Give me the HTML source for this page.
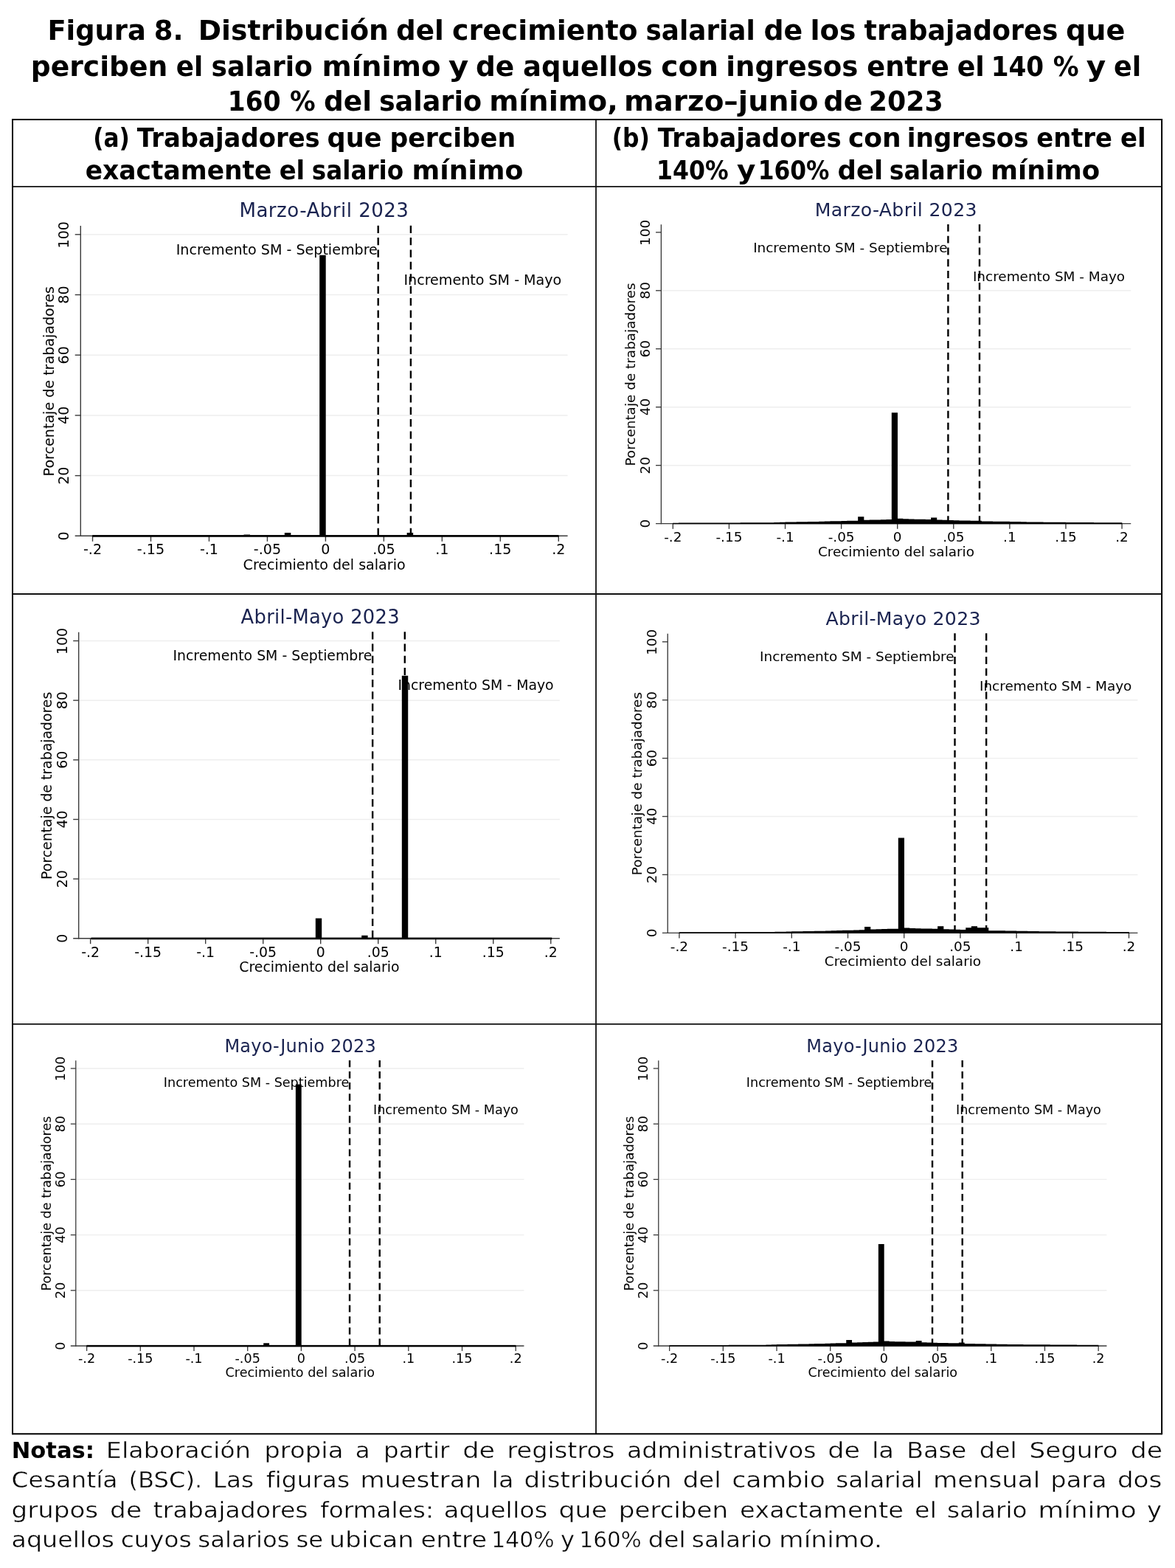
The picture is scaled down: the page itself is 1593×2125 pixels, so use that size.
<!DOCTYPE html>
<html lang="es"><head><meta charset="utf-8"><title>Figura 8</title>
<style>html,body{margin:0;padding:0;background:#fff}body{width:1593px;height:2125px;overflow:hidden}svg{display:block}text{white-space:pre}</style>
</head><body>
<svg width="1593" height="2125" viewBox="0 0 1593 2125" role="img" aria-label="Figura 8">
<rect width="1593" height="2125" fill="#fff"/>
<text y="53.50" font-size="37.80" fill="#000" font-family="'DejaVu Sans','Liberation Sans',sans-serif" font-weight="bold"><tspan x="64.42" textLength="133.39" lengthAdjust="spacingAndGlyphs">Figura</tspan> <tspan x="208.67" textLength="39.78" lengthAdjust="spacingAndGlyphs">8.</tspan>  <tspan x="268.75" textLength="258.24" lengthAdjust="spacingAndGlyphs">Distribución</tspan> <tspan x="536.93" textLength="64.85" lengthAdjust="spacingAndGlyphs">del</tspan> <tspan x="613.02" textLength="251.55" lengthAdjust="spacingAndGlyphs">crecimiento</tspan> <tspan x="875.52" textLength="148.24" lengthAdjust="spacingAndGlyphs">salarial</tspan> <tspan x="1035.42" textLength="52.81" lengthAdjust="spacingAndGlyphs">de</tspan> <tspan x="1098.42" textLength="62.03" lengthAdjust="spacingAndGlyphs">los</tspan> <tspan x="1171.50" textLength="262.79" lengthAdjust="spacingAndGlyphs">trabajadores</tspan> <tspan x="1445.01" textLength="80.43" lengthAdjust="spacingAndGlyphs">que</tspan></text>
<text y="102.50" font-size="37.80" fill="#000" font-family="'DejaVu Sans','Liberation Sans',sans-serif" font-weight="bold"><tspan x="41.76" textLength="185.63" lengthAdjust="spacingAndGlyphs">perciben</tspan> <tspan x="238.68" textLength="36.47" lengthAdjust="spacingAndGlyphs">el</tspan> <tspan x="286.61" textLength="137.09" lengthAdjust="spacingAndGlyphs">salario</tspan> <tspan x="436.48" textLength="161.11" lengthAdjust="spacingAndGlyphs">mínimo</tspan> <tspan x="608.00" textLength="27.27" lengthAdjust="spacingAndGlyphs">y</tspan> <tspan x="644.93" textLength="52.28" lengthAdjust="spacingAndGlyphs">de</tspan> <tspan x="709.04" textLength="175.87" lengthAdjust="spacingAndGlyphs">aquellos</tspan> <tspan x="896.28" textLength="77.81" lengthAdjust="spacingAndGlyphs">con</tspan> <tspan x="984.30" textLength="179.12" lengthAdjust="spacingAndGlyphs">ingresos</tspan> <tspan x="1175.25" textLength="111.63" lengthAdjust="spacingAndGlyphs">entre</tspan> <tspan x="1297.66" textLength="37.14" lengthAdjust="spacingAndGlyphs">el</tspan> <tspan x="1343.65" textLength="71.50" lengthAdjust="spacingAndGlyphs">140</tspan> <tspan x="1427.81" textLength="34.90" lengthAdjust="spacingAndGlyphs">%</tspan> <tspan x="1472.70" textLength="26.46" lengthAdjust="spacingAndGlyphs">y</tspan> <tspan x="1510.06" textLength="37.14" lengthAdjust="spacingAndGlyphs">el</tspan></text>
<text y="150.20" font-size="37.80" fill="#000" font-family="'DejaVu Sans','Liberation Sans',sans-serif" font-weight="bold"><tspan x="308.84" textLength="71.72" lengthAdjust="spacingAndGlyphs">160</tspan> <tspan x="393.12" textLength="34.69" lengthAdjust="spacingAndGlyphs">%</tspan> <tspan x="439.03" textLength="65.06" lengthAdjust="spacingAndGlyphs">del</tspan> <tspan x="513.89" textLength="139.13" lengthAdjust="spacingAndGlyphs">salario</tspan> <tspan x="663.20" textLength="174.58" lengthAdjust="spacingAndGlyphs">mínimo,</tspan> <tspan x="846.06" textLength="263.54" lengthAdjust="spacingAndGlyphs">marzo–junio</tspan> <tspan x="1116.51" textLength="52.91" lengthAdjust="spacingAndGlyphs">de</tspan> <tspan x="1177.76" textLength="101.00" lengthAdjust="spacingAndGlyphs">2023</tspan></text>
<text y="199.10" font-size="35.00" fill="#000" font-family="'DejaVu Sans','Liberation Sans',sans-serif" font-weight="bold"><tspan x="126.16" textLength="49.71" lengthAdjust="spacingAndGlyphs">(a)</tspan> <tspan x="185.80" textLength="248.01" lengthAdjust="spacingAndGlyphs">Trabajadores</tspan> <tspan x="443.60" textLength="74.02" lengthAdjust="spacingAndGlyphs">que</tspan> <tspan x="528.39" textLength="170.88" lengthAdjust="spacingAndGlyphs">perciben</tspan></text>
<text y="243.10" font-size="35.00" fill="#000" font-family="'DejaVu Sans','Liberation Sans',sans-serif" font-weight="bold"><tspan x="115.72" textLength="252.67" lengthAdjust="spacingAndGlyphs">exactamente</tspan> <tspan x="378.64" textLength="34.57" lengthAdjust="spacingAndGlyphs">el</tspan> <tspan x="422.87" textLength="124.33" lengthAdjust="spacingAndGlyphs">salario</tspan> <tspan x="558.47" textLength="151.05" lengthAdjust="spacingAndGlyphs">mínimo</tspan></text>
<text y="199.10" font-size="35.00" fill="#000" font-family="'DejaVu Sans','Liberation Sans',sans-serif" font-weight="bold"><tspan x="829.74" textLength="51.23" lengthAdjust="spacingAndGlyphs">(b)</tspan> <tspan x="891.70" textLength="249.01" lengthAdjust="spacingAndGlyphs">Trabajadores</tspan> <tspan x="1149.98" textLength="71.69" lengthAdjust="spacingAndGlyphs">con</tspan> <tspan x="1229.73" textLength="164.99" lengthAdjust="spacingAndGlyphs">ingresos</tspan> <tspan x="1405.24" textLength="102.73" lengthAdjust="spacingAndGlyphs">entre</tspan> <tspan x="1518.94" textLength="34.68" lengthAdjust="spacingAndGlyphs">el</tspan></text>
<text y="243.10" font-size="35.00" fill="#000" font-family="'DejaVu Sans','Liberation Sans',sans-serif" font-weight="bold"><tspan x="890.04" textLength="97.72" lengthAdjust="spacingAndGlyphs">140%</tspan> <tspan x="999.00" textLength="25.44" lengthAdjust="spacingAndGlyphs">y</tspan> <tspan x="1027.67" textLength="96.88" lengthAdjust="spacingAndGlyphs">160%</tspan> <tspan x="1135.49" textLength="61.65" lengthAdjust="spacingAndGlyphs">del</tspan> <tspan x="1205.64" textLength="126.78" lengthAdjust="spacingAndGlyphs">salario</tspan> <tspan x="1343.02" textLength="148.07" lengthAdjust="spacingAndGlyphs">mínimo</tspan></text>
<g>
<line x1="109.30" y1="644.60" x2="769.60" y2="644.60" stroke="#eeeeee" stroke-width="1.50"/>
<line x1="109.30" y1="562.90" x2="769.60" y2="562.90" stroke="#eeeeee" stroke-width="1.50"/>
<line x1="109.30" y1="481.20" x2="769.60" y2="481.20" stroke="#eeeeee" stroke-width="1.50"/>
<line x1="109.30" y1="399.50" x2="769.60" y2="399.50" stroke="#eeeeee" stroke-width="1.50"/>
<line x1="109.30" y1="317.80" x2="769.60" y2="317.80" stroke="#eeeeee" stroke-width="1.50"/>
<line x1="512.71" y1="305.65" x2="512.71" y2="726.30" stroke="#000" stroke-width="2.40" stroke-dasharray="10.30 6.10"/>
<line x1="556.90" y1="305.65" x2="556.90" y2="726.30" stroke="#000" stroke-width="2.40" stroke-dasharray="10.30 6.10"/>
<line x1="109.30" y1="306.00" x2="109.30" y2="727.00" stroke="#3a3a3a" stroke-width="1.40"/>
<line x1="101.70" y1="726.30" x2="769.60" y2="726.30" stroke="#3a3a3a" stroke-width="1.40"/>
<line x1="101.70" y1="644.60" x2="109.30" y2="644.60" stroke="#3a3a3a" stroke-width="1.40"/>
<line x1="101.70" y1="562.90" x2="109.30" y2="562.90" stroke="#3a3a3a" stroke-width="1.40"/>
<line x1="101.70" y1="481.20" x2="109.30" y2="481.20" stroke="#3a3a3a" stroke-width="1.40"/>
<line x1="101.70" y1="399.50" x2="109.30" y2="399.50" stroke="#3a3a3a" stroke-width="1.40"/>
<line x1="101.70" y1="317.80" x2="109.30" y2="317.80" stroke="#3a3a3a" stroke-width="1.40"/>
<line x1="125.52" y1="726.30" x2="125.52" y2="733.80" stroke="#3a3a3a" stroke-width="1.40"/>
<line x1="204.49" y1="726.30" x2="204.49" y2="733.80" stroke="#3a3a3a" stroke-width="1.40"/>
<line x1="283.46" y1="726.30" x2="283.46" y2="733.80" stroke="#3a3a3a" stroke-width="1.40"/>
<line x1="362.43" y1="726.30" x2="362.43" y2="733.80" stroke="#3a3a3a" stroke-width="1.40"/>
<line x1="441.40" y1="726.30" x2="441.40" y2="733.80" stroke="#3a3a3a" stroke-width="1.40"/>
<line x1="520.37" y1="726.30" x2="520.37" y2="733.80" stroke="#3a3a3a" stroke-width="1.40"/>
<line x1="599.34" y1="726.30" x2="599.34" y2="733.80" stroke="#3a3a3a" stroke-width="1.40"/>
<line x1="678.31" y1="726.30" x2="678.31" y2="733.80" stroke="#3a3a3a" stroke-width="1.40"/>
<line x1="757.28" y1="726.30" x2="757.28" y2="733.80" stroke="#3a3a3a" stroke-width="1.40"/>
<path d="M433.20 726.30V345.69H441.70V726.30ZM385.82 726.30V721.91H394.32V726.30ZM330.54 726.30V724.57H339.04V726.30ZM551.66 726.30V721.91H560.15V726.30Z" fill="#000"/>
<rect x="125.22" y="725.05" width="632.36" height="2.70" fill="#000"/>
<text transform="translate(93.10 732.42) rotate(-90)" font-size="19.10" fill="#000" font-family="'DejaVu Sans','Liberation Sans',sans-serif">0</text>
<text transform="translate(93.10 656.79) rotate(-90)" font-size="19.10" fill="#000" font-family="'DejaVu Sans','Liberation Sans',sans-serif">20</text>
<text transform="translate(93.10 574.94) rotate(-90)" font-size="19.10" fill="#000" font-family="'DejaVu Sans','Liberation Sans',sans-serif">40</text>
<text transform="translate(93.10 493.39) rotate(-90)" font-size="19.10" fill="#000" font-family="'DejaVu Sans','Liberation Sans',sans-serif">60</text>
<text transform="translate(93.10 411.69) rotate(-90)" font-size="19.10" fill="#000" font-family="'DejaVu Sans','Liberation Sans',sans-serif">80</text>
<text transform="translate(93.10 336.52) rotate(-90)" font-size="19.10" fill="#000" font-family="'DejaVu Sans','Liberation Sans',sans-serif">100</text>
<text transform="translate(72.60 645.40) rotate(-90)" font-size="19.10" fill="#000" font-family="'DejaVu Sans','Liberation Sans',sans-serif">Porcentaje de trabajadores</text>
<text x="125.52" y="751.40" font-size="19.10" fill="#000" font-family="'DejaVu Sans','Liberation Sans',sans-serif" text-anchor="middle">-.2</text>
<text x="204.49" y="751.40" font-size="19.10" fill="#000" font-family="'DejaVu Sans','Liberation Sans',sans-serif" text-anchor="middle">-.15</text>
<text x="283.46" y="751.40" font-size="19.10" fill="#000" font-family="'DejaVu Sans','Liberation Sans',sans-serif" text-anchor="middle">-.1</text>
<text x="362.43" y="751.40" font-size="19.10" fill="#000" font-family="'DejaVu Sans','Liberation Sans',sans-serif" text-anchor="middle">-.05</text>
<text x="441.40" y="751.40" font-size="19.10" fill="#000" font-family="'DejaVu Sans','Liberation Sans',sans-serif" text-anchor="middle">0</text>
<text x="520.37" y="751.40" font-size="19.10" fill="#000" font-family="'DejaVu Sans','Liberation Sans',sans-serif" text-anchor="middle">.05</text>
<text x="599.34" y="751.40" font-size="19.10" fill="#000" font-family="'DejaVu Sans','Liberation Sans',sans-serif" text-anchor="middle">.1</text>
<text x="678.31" y="751.40" font-size="19.10" fill="#000" font-family="'DejaVu Sans','Liberation Sans',sans-serif" text-anchor="middle">.15</text>
<text x="757.28" y="751.40" font-size="19.10" fill="#000" font-family="'DejaVu Sans','Liberation Sans',sans-serif" text-anchor="middle">.2</text>
<text x="329.62" y="772.10" font-size="19.10" fill="#000" font-family="'DejaVu Sans','Liberation Sans',sans-serif">Crecimiento del salario</text>
<text x="324.45" y="294.30" font-size="26.10" fill="#1a2350" font-family="'DejaVu Sans','Liberation Sans',sans-serif" letter-spacing="0.464">Marzo-Abril 2023</text>
<text x="238.68" y="345.10" font-size="19.10" fill="#000" font-family="'DejaVu Sans','Liberation Sans',sans-serif">Incremento SM - Septiembre</text>
<text x="547.41" y="385.60" font-size="19.10" fill="#000" font-family="'DejaVu Sans','Liberation Sans',sans-serif">Incremento SM - Mayo</text>
</g>
<g>
<line x1="896.39" y1="630.65" x2="1533.25" y2="630.65" stroke="#eeeeee" stroke-width="1.45"/>
<line x1="896.39" y1="551.70" x2="1533.25" y2="551.70" stroke="#eeeeee" stroke-width="1.45"/>
<line x1="896.39" y1="472.75" x2="1533.25" y2="472.75" stroke="#eeeeee" stroke-width="1.45"/>
<line x1="896.39" y1="393.80" x2="1533.25" y2="393.80" stroke="#eeeeee" stroke-width="1.45"/>
<line x1="1285.41" y1="303.88" x2="1285.41" y2="709.60" stroke="#000" stroke-width="2.40" stroke-dasharray="9.93 5.88"/>
<line x1="1327.99" y1="303.88" x2="1327.99" y2="709.60" stroke="#000" stroke-width="2.40" stroke-dasharray="9.93 5.88"/>
<line x1="896.39" y1="304.22" x2="896.39" y2="710.28" stroke="#3a3a3a" stroke-width="1.35"/>
<line x1="889.06" y1="709.60" x2="1533.25" y2="709.60" stroke="#3a3a3a" stroke-width="1.35"/>
<line x1="889.06" y1="630.65" x2="896.39" y2="630.65" stroke="#3a3a3a" stroke-width="1.35"/>
<line x1="889.06" y1="551.70" x2="896.39" y2="551.70" stroke="#3a3a3a" stroke-width="1.35"/>
<line x1="889.06" y1="472.75" x2="896.39" y2="472.75" stroke="#3a3a3a" stroke-width="1.35"/>
<line x1="889.06" y1="393.80" x2="896.39" y2="393.80" stroke="#3a3a3a" stroke-width="1.35"/>
<line x1="889.06" y1="314.85" x2="896.39" y2="314.85" stroke="#3a3a3a" stroke-width="1.35"/>
<line x1="912.34" y1="709.60" x2="912.34" y2="716.83" stroke="#3a3a3a" stroke-width="1.35"/>
<line x1="988.43" y1="709.60" x2="988.43" y2="716.83" stroke="#3a3a3a" stroke-width="1.35"/>
<line x1="1064.52" y1="709.60" x2="1064.52" y2="716.83" stroke="#3a3a3a" stroke-width="1.35"/>
<line x1="1140.61" y1="709.60" x2="1140.61" y2="716.83" stroke="#3a3a3a" stroke-width="1.35"/>
<line x1="1216.70" y1="709.60" x2="1216.70" y2="716.83" stroke="#3a3a3a" stroke-width="1.35"/>
<line x1="1292.79" y1="709.60" x2="1292.79" y2="716.83" stroke="#3a3a3a" stroke-width="1.35"/>
<line x1="1368.88" y1="709.60" x2="1368.88" y2="716.83" stroke="#3a3a3a" stroke-width="1.35"/>
<line x1="1444.97" y1="709.60" x2="1444.97" y2="716.83" stroke="#3a3a3a" stroke-width="1.35"/>
<line x1="1521.06" y1="709.60" x2="1521.06" y2="716.83" stroke="#3a3a3a" stroke-width="1.35"/>
<path d="M1208.80 709.60V559.31H1216.99V709.60ZM1163.15 709.60V700.15H1171.34V709.60ZM1262.06 709.60V701.59H1270.25V709.60ZM912.05 710.18L912.05 708.63L919.95 708.63L919.95 708.61L927.56 708.61L927.56 708.59L935.17 708.59L935.17 708.57L942.78 708.57L942.78 708.55L950.38 708.55L950.38 708.53L957.99 708.53L957.99 708.51L965.60 708.51L965.60 708.49L973.21 708.49L973.21 708.47L980.82 708.47L980.82 708.45L988.43 708.45L988.43 708.42L996.04 708.42L996.04 708.39L1003.65 708.39L1003.65 708.35L1011.26 708.35L1011.26 708.32L1018.87 708.32L1018.87 708.28L1026.48 708.28L1026.48 708.24L1034.08 708.24L1034.08 708.21L1041.69 708.21L1041.69 708.17L1049.30 708.17L1049.30 708.03L1056.91 708.03L1056.91 707.79L1064.52 707.79L1064.52 707.61L1072.13 707.61L1072.13 707.48L1079.74 707.48L1079.74 707.35L1087.35 707.35L1087.35 707.22L1094.96 707.22L1094.96 707.09L1102.57 707.09L1102.57 706.96L1110.17 706.96L1110.17 706.79L1117.78 706.79L1117.78 706.57L1125.39 706.57L1125.39 706.36L1133.00 706.36L1133.00 706.14L1140.61 706.14L1140.61 705.95L1148.22 705.95L1148.22 705.79L1155.83 705.79L1155.83 705.63L1163.44 705.63L1163.44 705.26L1171.05 705.26L1171.05 704.85L1178.65 704.85L1178.65 704.62L1186.26 704.62L1186.26 704.39L1193.87 704.39L1193.87 704.16L1201.48 704.16L1201.48 703.93L1209.09 703.93L1209.09 703.71L1216.70 703.71L1216.70 702.87L1224.31 702.87L1224.31 703.31L1231.92 703.31L1231.92 703.58L1239.53 703.58L1239.53 703.70L1247.14 703.70L1247.14 703.83L1254.75 703.83L1254.75 703.95L1262.35 703.95L1262.35 704.25L1269.96 704.25L1269.96 704.61L1277.57 704.61L1277.57 704.85L1285.18 704.85L1285.18 705.09L1292.79 705.09L1292.79 705.33L1300.40 705.33L1300.40 705.49L1308.01 705.49L1308.01 705.57L1315.62 705.57L1315.62 705.65L1323.23 705.65L1323.23 705.73L1330.84 705.73L1330.84 706.47L1338.44 706.47L1338.44 706.56L1346.05 706.56L1346.05 706.66L1353.66 706.66L1353.66 706.75L1361.27 706.75L1361.27 706.85L1368.88 706.85L1368.88 706.97L1376.49 706.97L1376.49 707.12L1384.10 707.12L1384.10 707.26L1391.71 707.26L1391.71 707.41L1399.32 707.41L1399.32 707.51L1406.92 707.51L1406.92 707.57L1414.53 707.57L1414.53 707.64L1422.14 707.64L1422.14 707.70L1429.75 707.70L1429.75 707.77L1437.36 707.77L1437.36 707.83L1444.97 707.83L1444.97 707.89L1452.58 707.89L1452.58 707.94L1460.19 707.94L1460.19 707.98L1467.80 707.98L1467.80 708.03L1475.41 708.03L1475.41 708.08L1483.02 708.08L1483.02 708.13L1490.62 708.13L1490.62 708.18L1498.23 708.18L1498.23 708.23L1505.84 708.23L1505.84 708.27L1513.45 708.27L1513.45 708.32L1521.35 708.32L1521.35 710.18Z" fill="#000"/>
<text transform="translate(880.76 715.50) rotate(-90)" font-size="18.42" fill="#000" font-family="'DejaVu Sans','Liberation Sans',sans-serif">0</text>
<text transform="translate(880.76 642.41) rotate(-90)" font-size="18.42" fill="#000" font-family="'DejaVu Sans','Liberation Sans',sans-serif">20</text>
<text transform="translate(880.76 563.32) rotate(-90)" font-size="18.42" fill="#000" font-family="'DejaVu Sans','Liberation Sans',sans-serif">40</text>
<text transform="translate(880.76 484.51) rotate(-90)" font-size="18.42" fill="#000" font-family="'DejaVu Sans','Liberation Sans',sans-serif">60</text>
<text transform="translate(880.76 405.56) rotate(-90)" font-size="18.42" fill="#000" font-family="'DejaVu Sans','Liberation Sans',sans-serif">80</text>
<text transform="translate(880.76 332.90) rotate(-90)" font-size="18.42" fill="#000" font-family="'DejaVu Sans','Liberation Sans',sans-serif">100</text>
<text transform="translate(860.99 631.57) rotate(-90)" font-size="18.42" fill="#000" font-family="'DejaVu Sans','Liberation Sans',sans-serif">Porcentaje de trabajadores</text>
<text x="912.34" y="733.81" font-size="18.42" fill="#000" font-family="'DejaVu Sans','Liberation Sans',sans-serif" text-anchor="middle">-.2</text>
<text x="988.43" y="733.81" font-size="18.42" fill="#000" font-family="'DejaVu Sans','Liberation Sans',sans-serif" text-anchor="middle">-.15</text>
<text x="1064.52" y="733.81" font-size="18.42" fill="#000" font-family="'DejaVu Sans','Liberation Sans',sans-serif" text-anchor="middle">-.1</text>
<text x="1140.61" y="733.81" font-size="18.42" fill="#000" font-family="'DejaVu Sans','Liberation Sans',sans-serif" text-anchor="middle">-.05</text>
<text x="1216.70" y="733.81" font-size="18.42" fill="#000" font-family="'DejaVu Sans','Liberation Sans',sans-serif" text-anchor="middle">0</text>
<text x="1292.79" y="733.81" font-size="18.42" fill="#000" font-family="'DejaVu Sans','Liberation Sans',sans-serif" text-anchor="middle">.05</text>
<text x="1368.88" y="733.81" font-size="18.42" fill="#000" font-family="'DejaVu Sans','Liberation Sans',sans-serif" text-anchor="middle">.1</text>
<text x="1444.97" y="733.81" font-size="18.42" fill="#000" font-family="'DejaVu Sans','Liberation Sans',sans-serif" text-anchor="middle">.15</text>
<text x="1521.06" y="733.81" font-size="18.42" fill="#000" font-family="'DejaVu Sans','Liberation Sans',sans-serif" text-anchor="middle">.2</text>
<text x="1108.89" y="753.77" font-size="18.42" fill="#000" font-family="'DejaVu Sans','Liberation Sans',sans-serif">Crecimiento del salario</text>
<text x="1104.64" y="292.94" font-size="25.17" fill="#1a2350" font-family="'DejaVu Sans','Liberation Sans',sans-serif" letter-spacing="0.354">Marzo-Abril 2023</text>
<text x="1021.17" y="341.93" font-size="18.42" fill="#000" font-family="'DejaVu Sans','Liberation Sans',sans-serif">Incremento SM - Septiembre</text>
<text x="1318.95" y="380.99" font-size="18.42" fill="#000" font-family="'DejaVu Sans','Liberation Sans',sans-serif">Incremento SM - Mayo</text>
</g>
<g>
<line x1="106.68" y1="1191.14" x2="758.86" y2="1191.14" stroke="#eeeeee" stroke-width="1.48"/>
<line x1="106.68" y1="1110.48" x2="758.86" y2="1110.48" stroke="#eeeeee" stroke-width="1.48"/>
<line x1="106.68" y1="1029.82" x2="758.86" y2="1029.82" stroke="#eeeeee" stroke-width="1.48"/>
<line x1="106.68" y1="949.16" x2="758.86" y2="949.16" stroke="#eeeeee" stroke-width="1.48"/>
<line x1="106.68" y1="868.50" x2="758.86" y2="868.50" stroke="#eeeeee" stroke-width="1.48"/>
<line x1="505.15" y1="856.32" x2="505.15" y2="1271.80" stroke="#000" stroke-width="2.40" stroke-dasharray="10.17 6.02"/>
<line x1="548.80" y1="856.32" x2="548.80" y2="1271.80" stroke="#000" stroke-width="2.40" stroke-dasharray="10.17 6.02"/>
<line x1="106.68" y1="856.67" x2="106.68" y2="1272.49" stroke="#3a3a3a" stroke-width="1.38"/>
<line x1="99.18" y1="1271.80" x2="758.86" y2="1271.80" stroke="#3a3a3a" stroke-width="1.38"/>
<line x1="99.18" y1="1191.14" x2="106.68" y2="1191.14" stroke="#3a3a3a" stroke-width="1.38"/>
<line x1="99.18" y1="1110.48" x2="106.68" y2="1110.48" stroke="#3a3a3a" stroke-width="1.38"/>
<line x1="99.18" y1="1029.82" x2="106.68" y2="1029.82" stroke="#3a3a3a" stroke-width="1.38"/>
<line x1="99.18" y1="949.16" x2="106.68" y2="949.16" stroke="#3a3a3a" stroke-width="1.38"/>
<line x1="99.18" y1="868.50" x2="106.68" y2="868.50" stroke="#3a3a3a" stroke-width="1.38"/>
<line x1="122.64" y1="1271.80" x2="122.64" y2="1279.21" stroke="#3a3a3a" stroke-width="1.38"/>
<line x1="200.65" y1="1271.80" x2="200.65" y2="1279.21" stroke="#3a3a3a" stroke-width="1.38"/>
<line x1="278.67" y1="1271.80" x2="278.67" y2="1279.21" stroke="#3a3a3a" stroke-width="1.38"/>
<line x1="356.69" y1="1271.80" x2="356.69" y2="1279.21" stroke="#3a3a3a" stroke-width="1.38"/>
<line x1="434.70" y1="1271.80" x2="434.70" y2="1279.21" stroke="#3a3a3a" stroke-width="1.38"/>
<line x1="512.71" y1="1271.80" x2="512.71" y2="1279.21" stroke="#3a3a3a" stroke-width="1.38"/>
<line x1="590.73" y1="1271.80" x2="590.73" y2="1279.21" stroke="#3a3a3a" stroke-width="1.38"/>
<line x1="668.75" y1="1271.80" x2="668.75" y2="1279.21" stroke="#3a3a3a" stroke-width="1.38"/>
<line x1="746.76" y1="1271.80" x2="746.76" y2="1279.21" stroke="#3a3a3a" stroke-width="1.38"/>
<path d="M427.80 1271.80V1244.48H436.20V1271.80ZM490.21 1271.80V1267.87H498.61V1271.80ZM544.82 1271.80V915.79H553.22V1271.80Z" fill="#000"/>
<rect x="123.54" y="1270.57" width="624.71" height="2.67" fill="#000"/>
<text transform="translate(90.68 1277.84) rotate(-90)" font-size="18.87" fill="#000" font-family="'DejaVu Sans','Liberation Sans',sans-serif">0</text>
<text transform="translate(90.68 1203.18) rotate(-90)" font-size="18.87" fill="#000" font-family="'DejaVu Sans','Liberation Sans',sans-serif">20</text>
<text transform="translate(90.68 1122.38) rotate(-90)" font-size="18.87" fill="#000" font-family="'DejaVu Sans','Liberation Sans',sans-serif">40</text>
<text transform="translate(90.68 1041.86) rotate(-90)" font-size="18.87" fill="#000" font-family="'DejaVu Sans','Liberation Sans',sans-serif">60</text>
<text transform="translate(90.68 961.20) rotate(-90)" font-size="18.87" fill="#000" font-family="'DejaVu Sans','Liberation Sans',sans-serif">80</text>
<text transform="translate(90.68 886.99) rotate(-90)" font-size="18.87" fill="#000" font-family="'DejaVu Sans','Liberation Sans',sans-serif">100</text>
<text transform="translate(70.44 1191.90) rotate(-90)" font-size="18.87" fill="#000" font-family="'DejaVu Sans','Liberation Sans',sans-serif">Porcentaje de trabajadores</text>
<text x="122.64" y="1296.59" font-size="18.87" fill="#000" font-family="'DejaVu Sans','Liberation Sans',sans-serif" text-anchor="middle">-.2</text>
<text x="200.65" y="1296.59" font-size="18.87" fill="#000" font-family="'DejaVu Sans','Liberation Sans',sans-serif" text-anchor="middle">-.15</text>
<text x="278.67" y="1296.59" font-size="18.87" fill="#000" font-family="'DejaVu Sans','Liberation Sans',sans-serif" text-anchor="middle">-.1</text>
<text x="356.69" y="1296.59" font-size="18.87" fill="#000" font-family="'DejaVu Sans','Liberation Sans',sans-serif" text-anchor="middle">-.05</text>
<text x="434.70" y="1296.59" font-size="18.87" fill="#000" font-family="'DejaVu Sans','Liberation Sans',sans-serif" text-anchor="middle">0</text>
<text x="512.71" y="1296.59" font-size="18.87" fill="#000" font-family="'DejaVu Sans','Liberation Sans',sans-serif" text-anchor="middle">.05</text>
<text x="590.73" y="1296.59" font-size="18.87" fill="#000" font-family="'DejaVu Sans','Liberation Sans',sans-serif" text-anchor="middle">.1</text>
<text x="668.75" y="1296.59" font-size="18.87" fill="#000" font-family="'DejaVu Sans','Liberation Sans',sans-serif" text-anchor="middle">.15</text>
<text x="746.76" y="1296.59" font-size="18.87" fill="#000" font-family="'DejaVu Sans','Liberation Sans',sans-serif" text-anchor="middle">.2</text>
<text x="324.29" y="1317.04" font-size="18.87" fill="#000" font-family="'DejaVu Sans','Liberation Sans',sans-serif">Crecimiento del salario</text>
<text x="326.60" y="845.11" font-size="25.78" fill="#1a2350" font-family="'DejaVu Sans','Liberation Sans',sans-serif" letter-spacing="0.286">Abril-Mayo 2023</text>
<text x="234.47" y="895.29" font-size="18.87" fill="#000" font-family="'DejaVu Sans','Liberation Sans',sans-serif">Incremento SM - Septiembre</text>
<text x="539.41" y="935.29" font-size="18.87" fill="#000" font-family="'DejaVu Sans','Liberation Sans',sans-serif">Incremento SM - Mayo</text>
</g>
<g>
<line x1="905.22" y1="1185.40" x2="1542.41" y2="1185.40" stroke="#eeeeee" stroke-width="1.45"/>
<line x1="905.22" y1="1106.50" x2="1542.41" y2="1106.50" stroke="#eeeeee" stroke-width="1.45"/>
<line x1="905.22" y1="1027.60" x2="1542.41" y2="1027.60" stroke="#eeeeee" stroke-width="1.45"/>
<line x1="905.22" y1="948.70" x2="1542.41" y2="948.70" stroke="#eeeeee" stroke-width="1.45"/>
<line x1="1294.51" y1="858.37" x2="1294.51" y2="1264.30" stroke="#000" stroke-width="2.40" stroke-dasharray="9.94 5.89"/>
<line x1="1337.15" y1="858.37" x2="1337.15" y2="1264.30" stroke="#000" stroke-width="2.40" stroke-dasharray="9.94 5.89"/>
<line x1="905.22" y1="858.71" x2="905.22" y2="1264.98" stroke="#3a3a3a" stroke-width="1.35"/>
<line x1="897.89" y1="1264.30" x2="1542.41" y2="1264.30" stroke="#3a3a3a" stroke-width="1.35"/>
<line x1="897.89" y1="1185.40" x2="905.22" y2="1185.40" stroke="#3a3a3a" stroke-width="1.35"/>
<line x1="897.89" y1="1106.50" x2="905.22" y2="1106.50" stroke="#3a3a3a" stroke-width="1.35"/>
<line x1="897.89" y1="1027.60" x2="905.22" y2="1027.60" stroke="#3a3a3a" stroke-width="1.35"/>
<line x1="897.89" y1="948.70" x2="905.22" y2="948.70" stroke="#3a3a3a" stroke-width="1.35"/>
<line x1="897.89" y1="869.80" x2="905.22" y2="869.80" stroke="#3a3a3a" stroke-width="1.35"/>
<line x1="920.90" y1="1264.30" x2="920.90" y2="1271.54" stroke="#3a3a3a" stroke-width="1.35"/>
<line x1="997.10" y1="1264.30" x2="997.10" y2="1271.54" stroke="#3a3a3a" stroke-width="1.35"/>
<line x1="1073.30" y1="1264.30" x2="1073.30" y2="1271.54" stroke="#3a3a3a" stroke-width="1.35"/>
<line x1="1149.50" y1="1264.30" x2="1149.50" y2="1271.54" stroke="#3a3a3a" stroke-width="1.35"/>
<line x1="1225.70" y1="1264.30" x2="1225.70" y2="1271.54" stroke="#3a3a3a" stroke-width="1.35"/>
<line x1="1301.90" y1="1264.30" x2="1301.90" y2="1271.54" stroke="#3a3a3a" stroke-width="1.35"/>
<line x1="1378.10" y1="1264.30" x2="1378.10" y2="1271.54" stroke="#3a3a3a" stroke-width="1.35"/>
<line x1="1454.30" y1="1264.30" x2="1454.30" y2="1271.54" stroke="#3a3a3a" stroke-width="1.35"/>
<line x1="1530.50" y1="1264.30" x2="1530.50" y2="1271.54" stroke="#3a3a3a" stroke-width="1.35"/>
<path d="M1217.79 1264.30V1135.40H1225.99V1264.30ZM1172.07 1264.30V1256.10H1180.27V1264.30ZM1271.13 1264.30V1255.33H1279.33V1264.30ZM1309.23 1264.30V1257.35H1317.43V1264.30ZM1316.85 1264.30V1255.13H1325.05V1264.30ZM1324.47 1264.30V1257.35H1340.29V1264.30ZM920.61 1264.88L920.61 1263.33L928.52 1263.33L928.52 1263.31L936.14 1263.31L936.14 1263.29L943.76 1263.29L943.76 1263.27L951.38 1263.27L951.38 1263.25L959.00 1263.25L959.00 1263.23L966.62 1263.23L966.62 1263.21L974.24 1263.21L974.24 1263.19L981.86 1263.19L981.86 1263.17L989.48 1263.17L989.48 1263.15L997.10 1263.15L997.10 1263.12L1004.72 1263.12L1004.72 1263.09L1012.34 1263.09L1012.34 1263.05L1019.96 1263.05L1019.96 1263.02L1027.58 1263.02L1027.58 1262.98L1035.20 1262.98L1035.20 1262.94L1042.82 1262.94L1042.82 1262.91L1050.44 1262.91L1050.44 1262.87L1058.06 1262.87L1058.06 1262.73L1065.68 1262.73L1065.68 1262.49L1073.30 1262.49L1073.30 1262.31L1080.92 1262.31L1080.92 1262.18L1088.54 1262.18L1088.54 1262.05L1096.16 1262.05L1096.16 1261.92L1103.78 1261.92L1103.78 1261.79L1111.40 1261.79L1111.40 1261.66L1119.02 1261.66L1119.02 1261.49L1126.64 1261.49L1126.64 1261.27L1134.26 1261.27L1134.26 1261.06L1141.88 1261.06L1141.88 1260.84L1149.50 1260.84L1149.50 1260.65L1157.12 1260.65L1157.12 1260.49L1164.74 1260.49L1164.74 1260.33L1172.36 1260.33L1172.36 1259.96L1179.98 1259.96L1179.98 1259.55L1187.60 1259.55L1187.60 1259.32L1195.22 1259.32L1195.22 1259.09L1202.84 1259.09L1202.84 1258.86L1210.46 1258.86L1210.46 1258.63L1218.08 1258.63L1218.08 1258.41L1225.70 1258.41L1225.70 1257.57L1233.32 1257.57L1233.32 1258.00L1240.94 1258.00L1240.94 1258.28L1248.56 1258.28L1248.56 1258.40L1256.18 1258.40L1256.18 1258.52L1263.80 1258.52L1263.80 1258.64L1271.42 1258.64L1271.42 1258.94L1279.04 1258.94L1279.04 1259.31L1286.66 1259.31L1286.66 1259.55L1294.28 1259.55L1294.28 1259.79L1301.90 1259.79L1301.90 1260.03L1309.52 1260.03L1309.52 1260.19L1317.14 1260.19L1317.14 1260.27L1324.76 1260.27L1324.76 1260.35L1332.38 1260.35L1332.38 1260.43L1340.00 1260.43L1340.00 1261.16L1347.62 1261.16L1347.62 1261.26L1355.24 1261.26L1355.24 1261.36L1362.86 1261.36L1362.86 1261.45L1370.48 1261.45L1370.48 1261.55L1378.10 1261.55L1378.10 1261.67L1385.72 1261.67L1385.72 1261.82L1393.34 1261.82L1393.34 1261.96L1400.96 1261.96L1400.96 1262.10L1408.58 1262.10L1408.58 1262.21L1416.20 1262.21L1416.20 1262.27L1423.82 1262.27L1423.82 1262.34L1431.44 1262.34L1431.44 1262.40L1439.06 1262.40L1439.06 1262.47L1446.68 1262.47L1446.68 1262.53L1454.30 1262.53L1454.30 1262.59L1461.92 1262.59L1461.92 1262.64L1469.54 1262.64L1469.54 1262.68L1477.16 1262.68L1477.16 1262.73L1484.78 1262.73L1484.78 1262.78L1492.40 1262.78L1492.40 1262.83L1500.02 1262.83L1500.02 1262.88L1507.64 1262.88L1507.64 1262.92L1515.26 1262.92L1515.26 1262.97L1522.88 1262.97L1522.88 1263.02L1530.79 1263.02L1530.79 1264.88Z" fill="#000"/>
<text transform="translate(889.59 1270.20) rotate(-90)" font-size="18.43" fill="#000" font-family="'DejaVu Sans','Liberation Sans',sans-serif">0</text>
<text transform="translate(889.59 1197.17) rotate(-90)" font-size="18.43" fill="#000" font-family="'DejaVu Sans','Liberation Sans',sans-serif">20</text>
<text transform="translate(889.59 1118.12) rotate(-90)" font-size="18.43" fill="#000" font-family="'DejaVu Sans','Liberation Sans',sans-serif">40</text>
<text transform="translate(889.59 1039.37) rotate(-90)" font-size="18.43" fill="#000" font-family="'DejaVu Sans','Liberation Sans',sans-serif">60</text>
<text transform="translate(889.59 960.47) rotate(-90)" font-size="18.43" fill="#000" font-family="'DejaVu Sans','Liberation Sans',sans-serif">80</text>
<text transform="translate(889.59 887.86) rotate(-90)" font-size="18.43" fill="#000" font-family="'DejaVu Sans','Liberation Sans',sans-serif">100</text>
<text transform="translate(869.81 1186.23) rotate(-90)" font-size="18.43" fill="#000" font-family="'DejaVu Sans','Liberation Sans',sans-serif">Porcentaje de trabajadores</text>
<text x="920.90" y="1288.52" font-size="18.43" fill="#000" font-family="'DejaVu Sans','Liberation Sans',sans-serif" text-anchor="middle">-.2</text>
<text x="997.10" y="1288.52" font-size="18.43" fill="#000" font-family="'DejaVu Sans','Liberation Sans',sans-serif" text-anchor="middle">-.15</text>
<text x="1073.30" y="1288.52" font-size="18.43" fill="#000" font-family="'DejaVu Sans','Liberation Sans',sans-serif" text-anchor="middle">-.1</text>
<text x="1149.50" y="1288.52" font-size="18.43" fill="#000" font-family="'DejaVu Sans','Liberation Sans',sans-serif" text-anchor="middle">-.05</text>
<text x="1225.70" y="1288.52" font-size="18.43" fill="#000" font-family="'DejaVu Sans','Liberation Sans',sans-serif" text-anchor="middle">0</text>
<text x="1301.90" y="1288.52" font-size="18.43" fill="#000" font-family="'DejaVu Sans','Liberation Sans',sans-serif" text-anchor="middle">.05</text>
<text x="1378.10" y="1288.52" font-size="18.43" fill="#000" font-family="'DejaVu Sans','Liberation Sans',sans-serif" text-anchor="middle">.1</text>
<text x="1454.30" y="1288.52" font-size="18.43" fill="#000" font-family="'DejaVu Sans','Liberation Sans',sans-serif" text-anchor="middle">.15</text>
<text x="1530.50" y="1288.52" font-size="18.43" fill="#000" font-family="'DejaVu Sans','Liberation Sans',sans-serif" text-anchor="middle">.2</text>
<text x="1117.83" y="1308.50" font-size="18.43" fill="#000" font-family="'DejaVu Sans','Liberation Sans',sans-serif">Crecimiento del salario</text>
<text x="1119.60" y="847.42" font-size="25.19" fill="#1a2350" font-family="'DejaVu Sans','Liberation Sans',sans-serif" letter-spacing="0.258">Abril-Mayo 2023</text>
<text x="1030.07" y="896.44" font-size="18.43" fill="#000" font-family="'DejaVu Sans','Liberation Sans',sans-serif">Incremento SM - Septiembre</text>
<text x="1328.00" y="935.52" font-size="18.43" fill="#000" font-family="'DejaVu Sans','Liberation Sans',sans-serif">Incremento SM - Mayo</text>
</g>
<g>
<line x1="102.77" y1="1748.80" x2="710.44" y2="1748.80" stroke="#eeeeee" stroke-width="1.38"/>
<line x1="102.77" y1="1673.60" x2="710.44" y2="1673.60" stroke="#eeeeee" stroke-width="1.38"/>
<line x1="102.77" y1="1598.40" x2="710.44" y2="1598.40" stroke="#eeeeee" stroke-width="1.38"/>
<line x1="102.77" y1="1523.20" x2="710.44" y2="1523.20" stroke="#eeeeee" stroke-width="1.38"/>
<line x1="102.77" y1="1448.00" x2="710.44" y2="1448.00" stroke="#eeeeee" stroke-width="1.38"/>
<line x1="474.05" y1="1436.88" x2="474.05" y2="1824.00" stroke="#000" stroke-width="2.40" stroke-dasharray="9.48 5.61"/>
<line x1="514.73" y1="1436.88" x2="514.73" y2="1824.00" stroke="#000" stroke-width="2.40" stroke-dasharray="9.48 5.61"/>
<line x1="102.77" y1="1437.20" x2="102.77" y2="1824.64" stroke="#3a3a3a" stroke-width="1.29"/>
<line x1="95.77" y1="1824.00" x2="710.44" y2="1824.00" stroke="#3a3a3a" stroke-width="1.29"/>
<line x1="95.77" y1="1748.80" x2="102.77" y2="1748.80" stroke="#3a3a3a" stroke-width="1.29"/>
<line x1="95.77" y1="1673.60" x2="102.77" y2="1673.60" stroke="#3a3a3a" stroke-width="1.29"/>
<line x1="95.77" y1="1598.40" x2="102.77" y2="1598.40" stroke="#3a3a3a" stroke-width="1.29"/>
<line x1="95.77" y1="1523.20" x2="102.77" y2="1523.20" stroke="#3a3a3a" stroke-width="1.29"/>
<line x1="95.77" y1="1448.00" x2="102.77" y2="1448.00" stroke="#3a3a3a" stroke-width="1.29"/>
<line x1="117.60" y1="1824.00" x2="117.60" y2="1830.90" stroke="#3a3a3a" stroke-width="1.29"/>
<line x1="190.30" y1="1824.00" x2="190.30" y2="1830.90" stroke="#3a3a3a" stroke-width="1.29"/>
<line x1="263.00" y1="1824.00" x2="263.00" y2="1830.90" stroke="#3a3a3a" stroke-width="1.29"/>
<line x1="335.70" y1="1824.00" x2="335.70" y2="1830.90" stroke="#3a3a3a" stroke-width="1.29"/>
<line x1="408.40" y1="1824.00" x2="408.40" y2="1830.90" stroke="#3a3a3a" stroke-width="1.29"/>
<line x1="481.10" y1="1824.00" x2="481.10" y2="1830.90" stroke="#3a3a3a" stroke-width="1.29"/>
<line x1="553.80" y1="1824.00" x2="553.80" y2="1830.90" stroke="#3a3a3a" stroke-width="1.29"/>
<line x1="626.50" y1="1824.00" x2="626.50" y2="1830.90" stroke="#3a3a3a" stroke-width="1.29"/>
<line x1="699.20" y1="1824.00" x2="699.20" y2="1830.90" stroke="#3a3a3a" stroke-width="1.29"/>
<path d="M400.85 1824.00V1469.53H408.68V1824.00ZM357.23 1824.00V1820.34H365.06V1824.00Z" fill="#000"/>
<rect x="117.32" y="1822.85" width="582.15" height="2.48" fill="#000"/>
<text transform="translate(87.86 1829.63) rotate(-90)" font-size="17.58" fill="#000" font-family="'DejaVu Sans','Liberation Sans',sans-serif">0</text>
<text transform="translate(87.86 1760.02) rotate(-90)" font-size="17.58" fill="#000" font-family="'DejaVu Sans','Liberation Sans',sans-serif">20</text>
<text transform="translate(87.86 1684.68) rotate(-90)" font-size="17.58" fill="#000" font-family="'DejaVu Sans','Liberation Sans',sans-serif">40</text>
<text transform="translate(87.86 1609.62) rotate(-90)" font-size="17.58" fill="#000" font-family="'DejaVu Sans','Liberation Sans',sans-serif">60</text>
<text transform="translate(87.86 1534.42) rotate(-90)" font-size="17.58" fill="#000" font-family="'DejaVu Sans','Liberation Sans',sans-serif">80</text>
<text transform="translate(87.86 1465.23) rotate(-90)" font-size="17.58" fill="#000" font-family="'DejaVu Sans','Liberation Sans',sans-serif">100</text>
<text transform="translate(68.99 1749.55) rotate(-90)" font-size="17.58" fill="#000" font-family="'DejaVu Sans','Liberation Sans',sans-serif">Porcentaje de trabajadores</text>
<text x="117.60" y="1847.10" font-size="17.58" fill="#000" font-family="'DejaVu Sans','Liberation Sans',sans-serif" text-anchor="middle">-.2</text>
<text x="190.30" y="1847.10" font-size="17.58" fill="#000" font-family="'DejaVu Sans','Liberation Sans',sans-serif" text-anchor="middle">-.15</text>
<text x="263.00" y="1847.10" font-size="17.58" fill="#000" font-family="'DejaVu Sans','Liberation Sans',sans-serif" text-anchor="middle">-.1</text>
<text x="335.70" y="1847.10" font-size="17.58" fill="#000" font-family="'DejaVu Sans','Liberation Sans',sans-serif" text-anchor="middle">-.05</text>
<text x="408.40" y="1847.10" font-size="17.58" fill="#000" font-family="'DejaVu Sans','Liberation Sans',sans-serif" text-anchor="middle">0</text>
<text x="481.10" y="1847.10" font-size="17.58" fill="#000" font-family="'DejaVu Sans','Liberation Sans',sans-serif" text-anchor="middle">.05</text>
<text x="553.80" y="1847.10" font-size="17.58" fill="#000" font-family="'DejaVu Sans','Liberation Sans',sans-serif" text-anchor="middle">.1</text>
<text x="626.50" y="1847.10" font-size="17.58" fill="#000" font-family="'DejaVu Sans','Liberation Sans',sans-serif" text-anchor="middle">.15</text>
<text x="699.20" y="1847.10" font-size="17.58" fill="#000" font-family="'DejaVu Sans','Liberation Sans',sans-serif" text-anchor="middle">.2</text>
<text x="305.53" y="1866.15" font-size="17.58" fill="#000" font-family="'DejaVu Sans','Liberation Sans',sans-serif">Crecimiento del salario</text>
<text x="304.45" y="1426.43" font-size="24.02" fill="#1a2350" font-family="'DejaVu Sans','Liberation Sans',sans-serif" letter-spacing="0.211">Mayo-Junio 2023</text>
<text x="221.84" y="1473.18" font-size="17.58" fill="#000" font-family="'DejaVu Sans','Liberation Sans',sans-serif">Incremento SM - Septiembre</text>
<text x="505.96" y="1510.45" font-size="17.58" fill="#000" font-family="'DejaVu Sans','Liberation Sans',sans-serif">Incremento SM - Mayo</text>
</g>
<g>
<line x1="892.77" y1="1748.80" x2="1500.44" y2="1748.80" stroke="#eeeeee" stroke-width="1.38"/>
<line x1="892.77" y1="1673.60" x2="1500.44" y2="1673.60" stroke="#eeeeee" stroke-width="1.38"/>
<line x1="892.77" y1="1598.40" x2="1500.44" y2="1598.40" stroke="#eeeeee" stroke-width="1.38"/>
<line x1="892.77" y1="1523.20" x2="1500.44" y2="1523.20" stroke="#eeeeee" stroke-width="1.38"/>
<line x1="1264.04" y1="1436.88" x2="1264.04" y2="1824.00" stroke="#000" stroke-width="2.40" stroke-dasharray="9.48 5.61"/>
<line x1="1304.71" y1="1436.88" x2="1304.71" y2="1824.00" stroke="#000" stroke-width="2.40" stroke-dasharray="9.48 5.61"/>
<line x1="892.77" y1="1437.20" x2="892.77" y2="1824.64" stroke="#3a3a3a" stroke-width="1.29"/>
<line x1="885.77" y1="1824.00" x2="1500.44" y2="1824.00" stroke="#3a3a3a" stroke-width="1.29"/>
<line x1="885.77" y1="1748.80" x2="892.77" y2="1748.80" stroke="#3a3a3a" stroke-width="1.29"/>
<line x1="885.77" y1="1673.60" x2="892.77" y2="1673.60" stroke="#3a3a3a" stroke-width="1.29"/>
<line x1="885.77" y1="1598.40" x2="892.77" y2="1598.40" stroke="#3a3a3a" stroke-width="1.29"/>
<line x1="885.77" y1="1523.20" x2="892.77" y2="1523.20" stroke="#3a3a3a" stroke-width="1.29"/>
<line x1="885.77" y1="1448.00" x2="892.77" y2="1448.00" stroke="#3a3a3a" stroke-width="1.29"/>
<line x1="907.65" y1="1824.00" x2="907.65" y2="1830.90" stroke="#3a3a3a" stroke-width="1.29"/>
<line x1="980.34" y1="1824.00" x2="980.34" y2="1830.90" stroke="#3a3a3a" stroke-width="1.29"/>
<line x1="1053.03" y1="1824.00" x2="1053.03" y2="1830.90" stroke="#3a3a3a" stroke-width="1.29"/>
<line x1="1125.71" y1="1824.00" x2="1125.71" y2="1830.90" stroke="#3a3a3a" stroke-width="1.29"/>
<line x1="1198.40" y1="1824.00" x2="1198.40" y2="1830.90" stroke="#3a3a3a" stroke-width="1.29"/>
<line x1="1271.09" y1="1824.00" x2="1271.09" y2="1830.90" stroke="#3a3a3a" stroke-width="1.29"/>
<line x1="1343.78" y1="1824.00" x2="1343.78" y2="1830.90" stroke="#3a3a3a" stroke-width="1.29"/>
<line x1="1416.46" y1="1824.00" x2="1416.46" y2="1830.90" stroke="#3a3a3a" stroke-width="1.29"/>
<line x1="1489.15" y1="1824.00" x2="1489.15" y2="1830.90" stroke="#3a3a3a" stroke-width="1.29"/>
<path d="M1190.86 1824.00V1686.11H1198.68V1824.00ZM1147.24 1824.00V1816.09H1155.06V1824.00ZM1241.74 1824.00V1817.10H1249.56V1824.00ZM1299.89 1824.00V1819.40H1307.71V1824.00ZM907.37 1824.55L907.37 1823.07L914.92 1823.07L914.92 1823.05L922.19 1823.05L922.19 1823.03L929.46 1823.03L929.46 1823.02L936.73 1823.02L936.73 1823.00L943.99 1823.00L943.99 1822.98L951.26 1822.98L951.26 1822.96L958.53 1822.96L958.53 1822.94L965.80 1822.94L965.80 1822.92L973.07 1822.92L973.07 1822.90L980.34 1822.90L980.34 1822.88L987.61 1822.88L987.61 1822.84L994.88 1822.84L994.88 1822.81L1002.14 1822.81L1002.14 1822.77L1009.41 1822.77L1009.41 1822.74L1016.68 1822.74L1016.68 1822.71L1023.95 1822.71L1023.95 1822.67L1031.22 1822.67L1031.22 1822.64L1038.49 1822.64L1038.49 1822.50L1045.76 1822.50L1045.76 1822.27L1053.03 1822.27L1053.03 1822.10L1060.29 1822.10L1060.29 1821.98L1067.56 1821.98L1067.56 1821.85L1074.83 1821.85L1074.83 1821.73L1082.10 1821.73L1082.10 1821.61L1089.37 1821.61L1089.37 1821.48L1096.64 1821.48L1096.64 1821.32L1103.91 1821.32L1103.91 1821.11L1111.18 1821.11L1111.18 1820.91L1118.44 1820.91L1118.44 1820.70L1125.71 1820.70L1125.71 1820.52L1132.98 1820.52L1132.98 1820.36L1140.25 1820.36L1140.25 1820.21L1147.52 1820.21L1147.52 1819.86L1154.79 1819.86L1154.79 1819.47L1162.06 1819.47L1162.06 1819.25L1169.33 1819.25L1169.33 1819.03L1176.59 1819.03L1176.59 1818.81L1183.86 1818.81L1183.86 1818.59L1191.13 1818.59L1191.13 1818.38L1198.40 1818.38L1198.40 1817.58L1205.67 1817.58L1205.67 1818.00L1212.94 1818.00L1212.94 1818.26L1220.21 1818.26L1220.21 1818.37L1227.48 1818.37L1227.48 1818.49L1234.74 1818.49L1234.74 1818.60L1242.01 1818.60L1242.01 1818.89L1249.28 1818.89L1249.28 1819.24L1256.55 1819.24L1256.55 1819.47L1263.82 1819.47L1263.82 1819.70L1271.09 1819.70L1271.09 1819.93L1278.36 1819.93L1278.36 1820.08L1285.62 1820.08L1285.62 1820.16L1292.89 1820.16L1292.89 1820.23L1300.16 1820.23L1300.16 1820.31L1307.43 1820.31L1307.43 1821.01L1314.70 1821.01L1314.70 1821.10L1321.97 1821.10L1321.97 1821.19L1329.24 1821.19L1329.24 1821.29L1336.51 1821.29L1336.51 1821.38L1343.78 1821.38L1343.78 1821.49L1351.04 1821.49L1351.04 1821.63L1358.31 1821.63L1358.31 1821.77L1365.58 1821.77L1365.58 1821.91L1372.85 1821.91L1372.85 1822.01L1380.12 1822.01L1380.12 1822.07L1387.39 1822.07L1387.39 1822.13L1394.66 1822.13L1394.66 1822.19L1401.93 1822.19L1401.93 1822.25L1409.19 1822.25L1409.19 1822.31L1416.46 1822.31L1416.46 1822.37L1423.73 1822.37L1423.73 1822.41L1431.00 1822.41L1431.00 1822.46L1438.27 1822.46L1438.27 1822.50L1445.54 1822.50L1445.54 1822.55L1452.81 1822.55L1452.81 1822.60L1460.08 1822.60L1460.08 1822.64L1467.34 1822.64L1467.34 1822.69L1474.61 1822.69L1474.61 1822.73L1481.88 1822.73L1481.88 1822.78L1489.43 1822.78L1489.43 1824.55Z" fill="#000"/>
<text transform="translate(877.86 1829.63) rotate(-90)" font-size="17.58" fill="#000" font-family="'DejaVu Sans','Liberation Sans',sans-serif">0</text>
<text transform="translate(877.86 1760.02) rotate(-90)" font-size="17.58" fill="#000" font-family="'DejaVu Sans','Liberation Sans',sans-serif">20</text>
<text transform="translate(877.86 1684.68) rotate(-90)" font-size="17.58" fill="#000" font-family="'DejaVu Sans','Liberation Sans',sans-serif">40</text>
<text transform="translate(877.86 1609.62) rotate(-90)" font-size="17.58" fill="#000" font-family="'DejaVu Sans','Liberation Sans',sans-serif">60</text>
<text transform="translate(877.86 1534.42) rotate(-90)" font-size="17.58" fill="#000" font-family="'DejaVu Sans','Liberation Sans',sans-serif">80</text>
<text transform="translate(877.86 1465.23) rotate(-90)" font-size="17.58" fill="#000" font-family="'DejaVu Sans','Liberation Sans',sans-serif">100</text>
<text transform="translate(858.99 1749.55) rotate(-90)" font-size="17.58" fill="#000" font-family="'DejaVu Sans','Liberation Sans',sans-serif">Porcentaje de trabajadores</text>
<text x="907.65" y="1847.10" font-size="17.58" fill="#000" font-family="'DejaVu Sans','Liberation Sans',sans-serif" text-anchor="middle">-.2</text>
<text x="980.34" y="1847.10" font-size="17.58" fill="#000" font-family="'DejaVu Sans','Liberation Sans',sans-serif" text-anchor="middle">-.15</text>
<text x="1053.03" y="1847.10" font-size="17.58" fill="#000" font-family="'DejaVu Sans','Liberation Sans',sans-serif" text-anchor="middle">-.1</text>
<text x="1125.71" y="1847.10" font-size="17.58" fill="#000" font-family="'DejaVu Sans','Liberation Sans',sans-serif" text-anchor="middle">-.05</text>
<text x="1198.40" y="1847.10" font-size="17.58" fill="#000" font-family="'DejaVu Sans','Liberation Sans',sans-serif" text-anchor="middle">0</text>
<text x="1271.09" y="1847.10" font-size="17.58" fill="#000" font-family="'DejaVu Sans','Liberation Sans',sans-serif" text-anchor="middle">.05</text>
<text x="1343.78" y="1847.10" font-size="17.58" fill="#000" font-family="'DejaVu Sans','Liberation Sans',sans-serif" text-anchor="middle">.1</text>
<text x="1416.46" y="1847.10" font-size="17.58" fill="#000" font-family="'DejaVu Sans','Liberation Sans',sans-serif" text-anchor="middle">.15</text>
<text x="1489.15" y="1847.10" font-size="17.58" fill="#000" font-family="'DejaVu Sans','Liberation Sans',sans-serif" text-anchor="middle">.2</text>
<text x="1095.53" y="1866.15" font-size="17.58" fill="#000" font-family="'DejaVu Sans','Liberation Sans',sans-serif">Crecimiento del salario</text>
<text x="1093.35" y="1426.43" font-size="24.02" fill="#1a2350" font-family="'DejaVu Sans','Liberation Sans',sans-serif" letter-spacing="0.254">Mayo-Junio 2023</text>
<text x="1011.84" y="1473.18" font-size="17.58" fill="#000" font-family="'DejaVu Sans','Liberation Sans',sans-serif">Incremento SM - Septiembre</text>
<text x="1295.96" y="1510.45" font-size="17.58" fill="#000" font-family="'DejaVu Sans','Liberation Sans',sans-serif">Incremento SM - Mayo</text>
</g>
<line x1="808.00" y1="162.00" x2="808.00" y2="1943.30" stroke="#111" stroke-width="1.80"/>
<line x1="17.00" y1="252.90" x2="1575.10" y2="252.90" stroke="#111" stroke-width="1.80"/>
<line x1="17.00" y1="805.00" x2="1575.10" y2="805.00" stroke="#111" stroke-width="1.80"/>
<line x1="17.00" y1="1387.80" x2="1575.10" y2="1387.80" stroke="#111" stroke-width="1.80"/>
<line x1="17.00" y1="161.00" x2="17.00" y2="1944.30" stroke="#000" stroke-width="2.00"/>
<line x1="1575.10" y1="161.00" x2="1575.10" y2="1944.30" stroke="#000" stroke-width="2.00"/>
<line x1="17.00" y1="162.00" x2="1575.10" y2="162.00" stroke="#000" stroke-width="2.00"/>
<line x1="17.00" y1="1943.30" x2="1575.10" y2="1943.30" stroke="#000" stroke-width="2.00"/>
<text y="1975.90" font-size="30.00" fill="#000" font-family="'DejaVu Sans','Liberation Sans',sans-serif"><tspan x="15.71" textLength="112.24" lengthAdjust="spacingAndGlyphs" font-weight="bold">Notas:</tspan> <tspan x="143.76" textLength="196.32" lengthAdjust="spacingAndGlyphs" stroke="#fff" stroke-width="0.45">Elaboración</tspan> <tspan x="358.15" textLength="107.43" lengthAdjust="spacingAndGlyphs" stroke="#fff" stroke-width="0.45">propia</tspan> <tspan x="481.87" textLength="19.99" lengthAdjust="spacingAndGlyphs" stroke="#fff" stroke-width="0.45">a</tspan> <tspan x="520.05" textLength="89.30" lengthAdjust="spacingAndGlyphs" stroke="#fff" stroke-width="0.45">partir</tspan> <tspan x="627.36" textLength="43.68" lengthAdjust="spacingAndGlyphs" stroke="#fff" stroke-width="0.45">de</tspan> <tspan x="687.48" textLength="145.95" lengthAdjust="spacingAndGlyphs" stroke="#fff" stroke-width="0.45">registros</tspan> <tspan x="850.05" textLength="256.36" lengthAdjust="spacingAndGlyphs" stroke="#fff" stroke-width="0.45">administrativos</tspan> <tspan x="1122.36" textLength="43.68" lengthAdjust="spacingAndGlyphs" stroke="#fff" stroke-width="0.45">de</tspan> <tspan x="1181.93" textLength="30.13" lengthAdjust="spacingAndGlyphs" stroke="#fff" stroke-width="0.45">la</tspan> <tspan x="1229.28" textLength="81.08" lengthAdjust="spacingAndGlyphs" stroke="#fff" stroke-width="0.45">Base</tspan> <tspan x="1327.73" textLength="51.09" lengthAdjust="spacingAndGlyphs" stroke="#fff" stroke-width="0.45">del</tspan> <tspan x="1395.47" textLength="120.12" lengthAdjust="spacingAndGlyphs" stroke="#fff" stroke-width="0.45">Seguro</tspan> <tspan x="1532.68" textLength="43.25" lengthAdjust="spacingAndGlyphs" stroke="#fff" stroke-width="0.45">de</tspan></text>
<text y="2016.00" font-size="30.00" fill="#000" font-family="'DejaVu Sans','Liberation Sans',sans-serif"><tspan x="15.55" textLength="144.04" lengthAdjust="spacingAndGlyphs" stroke="#fff" stroke-width="0.45">Cesantía</tspan> <tspan x="174.48" textLength="99.91" lengthAdjust="spacingAndGlyphs" stroke="#fff" stroke-width="0.45">(BSC).</tspan> <tspan x="288.74" textLength="55.15" lengthAdjust="spacingAndGlyphs" stroke="#fff" stroke-width="0.45">Las</tspan> <tspan x="361.09" textLength="113.01" lengthAdjust="spacingAndGlyphs" stroke="#fff" stroke-width="0.45">figuras</tspan> <tspan x="488.53" textLength="163.81" lengthAdjust="spacingAndGlyphs" stroke="#fff" stroke-width="0.45">muestran</tspan> <tspan x="666.88" textLength="29.63" lengthAdjust="spacingAndGlyphs" stroke="#fff" stroke-width="0.45">la</tspan> <tspan x="710.60" textLength="199.93" lengthAdjust="spacingAndGlyphs" stroke="#fff" stroke-width="0.45">distribución</tspan> <tspan x="925.81" textLength="51.86" lengthAdjust="spacingAndGlyphs" stroke="#fff" stroke-width="0.45">del</tspan> <tspan x="992.28" textLength="126.63" lengthAdjust="spacingAndGlyphs" stroke="#fff" stroke-width="0.45">cambio</tspan> <tspan x="1133.28" textLength="117.16" lengthAdjust="spacingAndGlyphs" stroke="#fff" stroke-width="0.45">salarial</tspan> <tspan x="1265.04" textLength="145.13" lengthAdjust="spacingAndGlyphs" stroke="#fff" stroke-width="0.45">mensual</tspan> <tspan x="1424.38" textLength="76.26" lengthAdjust="spacingAndGlyphs" stroke="#fff" stroke-width="0.45">para</tspan> <tspan x="1514.90" textLength="60.46" lengthAdjust="spacingAndGlyphs" stroke="#fff" stroke-width="0.45">dos</tspan></text>
<text y="2056.70" font-size="30.00" fill="#000" font-family="'DejaVu Sans','Liberation Sans',sans-serif"><tspan x="15.50" textLength="117.55" lengthAdjust="spacingAndGlyphs" stroke="#fff" stroke-width="0.45">grupos</tspan> <tspan x="149.09" textLength="43.03" lengthAdjust="spacingAndGlyphs" stroke="#fff" stroke-width="0.45">de</tspan> <tspan x="207.88" textLength="209.73" lengthAdjust="spacingAndGlyphs" stroke="#fff" stroke-width="0.45">trabajadores</tspan> <tspan x="434.19" textLength="153.77" lengthAdjust="spacingAndGlyphs" stroke="#fff" stroke-width="0.45">formales:</tspan> <tspan x="601.83" textLength="140.40" lengthAdjust="spacingAndGlyphs" stroke="#fff" stroke-width="0.45">aquellos</tspan> <tspan x="757.46" textLength="65.78" lengthAdjust="spacingAndGlyphs" stroke="#fff" stroke-width="0.45">que</tspan> <tspan x="838.84" textLength="148.19" lengthAdjust="spacingAndGlyphs" stroke="#fff" stroke-width="0.45">perciben</tspan> <tspan x="1003.12" textLength="221.75" lengthAdjust="spacingAndGlyphs" stroke="#fff" stroke-width="0.45">exactamente</tspan> <tspan x="1240.14" textLength="29.77" lengthAdjust="spacingAndGlyphs" stroke="#fff" stroke-width="0.45">el</tspan> <tspan x="1283.97" textLength="108.54" lengthAdjust="spacingAndGlyphs" stroke="#fff" stroke-width="0.45">salario</tspan> <tspan x="1407.52" textLength="133.33" lengthAdjust="spacingAndGlyphs" stroke="#fff" stroke-width="0.45">mínimo</tspan> <tspan x="1555.07" textLength="20.02" lengthAdjust="spacingAndGlyphs" stroke="#fff" stroke-width="0.45">y</tspan></text>
<text y="2097.10" font-size="30.00" fill="#000" font-family="'DejaVu Sans','Liberation Sans',sans-serif"><tspan x="15.54" textLength="139.38" lengthAdjust="spacingAndGlyphs" stroke="#fff" stroke-width="0.45">aquellos</tspan> <tspan x="163.65" textLength="96.16" lengthAdjust="spacingAndGlyphs" stroke="#fff" stroke-width="0.45">cuyos</tspan> <tspan x="268.39" textLength="124.30" lengthAdjust="spacingAndGlyphs" stroke="#fff" stroke-width="0.45">salarios</tspan> <tspan x="401.59" textLength="36.61" lengthAdjust="spacingAndGlyphs" stroke="#fff" stroke-width="0.45">se</tspan> <tspan x="446.32" textLength="114.83" lengthAdjust="spacingAndGlyphs" stroke="#fff" stroke-width="0.45">ubican</tspan> <tspan x="570.41" textLength="89.57" lengthAdjust="spacingAndGlyphs" stroke="#fff" stroke-width="0.45">entre</tspan> <tspan x="666.23" textLength="85.38" lengthAdjust="spacingAndGlyphs" stroke="#fff" stroke-width="0.45">140%</tspan> <tspan x="759.90" textLength="19.05" lengthAdjust="spacingAndGlyphs" stroke="#fff" stroke-width="0.45">y</tspan> <tspan x="785.58" textLength="84.11" lengthAdjust="spacingAndGlyphs" stroke="#fff" stroke-width="0.45">160%</tspan> <tspan x="878.83" textLength="51.09" lengthAdjust="spacingAndGlyphs" stroke="#fff" stroke-width="0.45">del</tspan> <tspan x="937.87" textLength="108.64" lengthAdjust="spacingAndGlyphs" stroke="#fff" stroke-width="0.45">salario</tspan> <tspan x="1056.00" textLength="140.03" lengthAdjust="spacingAndGlyphs" stroke="#fff" stroke-width="0.45">mínimo.</tspan></text>
</svg>
</body></html>
